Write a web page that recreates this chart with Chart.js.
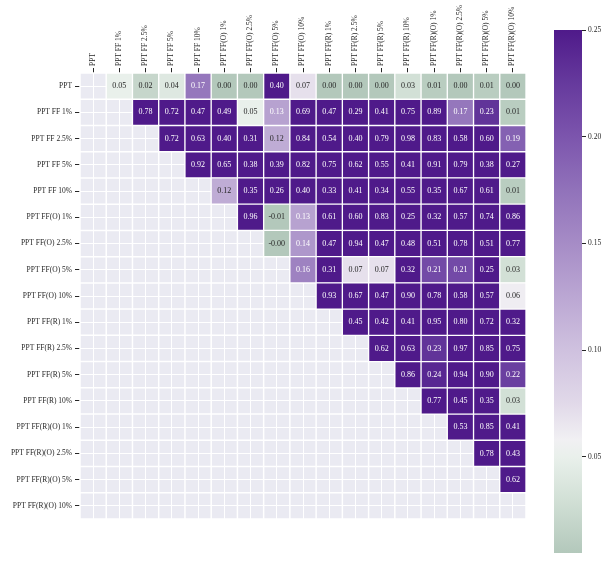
<!DOCTYPE html>
<html>
<head>
<meta charset="utf-8">
<script src="https://cdn.jsdelivr.net/npm/chart.js@4.4.1/dist/chart.umd.min.js"></script>
<style>
  body { margin: 0; background: #ffffff; }
  #wrap { position: relative; width: 616px; height: 563px; }
  #mapa { position: absolute; left: 0; top: 0; }
  #barra { position: absolute; left: 540px; top: 0; }
</style>
</head>
<body>
<div id="wrap">
  <canvas id="mapa" width="616" height="563"></canvas>
  <canvas id="barra" width="76" height="563"></canvas>
</div>
<script>
// Etiquetas de filas y columnas
const etiquetas = [
  'PPT', 'PPT FF 1%', 'PPT FF 2.5%', 'PPT FF 5%', 'PPT FF 10%',
  'PPT FF(O) 1%', 'PPT FF(O) 2.5%', 'PPT FF(O) 5%', 'PPT FF(O) 10%',
  'PPT FF(R) 1%', 'PPT FF(R) 2.5%', 'PPT FF(R) 5%', 'PPT FF(R) 10%',
  'PPT FF(R)(O) 1%', 'PPT FF(R)(O) 2.5%', 'PPT FF(R)(O) 5%', 'PPT FF(R)(O) 10%'
];

// Triangulo superior: cada fila empieza en la columna siguiente a la diagonal
const filaPPT      = [0.05, 0.02, 0.04, 0.17, 0.00, 0.00, 0.40, 0.07, 0.00, 0.00, 0.00, 0.03, 0.01, 0.00, 0.01, 0.00];
const filaFF1      = [0.78, 0.72, 0.47, 0.49, 0.05, 0.13, 0.69, 0.47, 0.29, 0.41, 0.75, 0.89, 0.17, 0.23, 0.01];
const filaFF25     = [0.72, 0.63, 0.40, 0.31, 0.12, 0.84, 0.54, 0.40, 0.79, 0.98, 0.83, 0.58, 0.60, 0.19];
const filaFF5      = [0.92, 0.65, 0.38, 0.39, 0.82, 0.75, 0.62, 0.55, 0.41, 0.91, 0.79, 0.38, 0.27];
const filaFF10     = [0.12, 0.35, 0.26, 0.40, 0.33, 0.41, 0.34, 0.55, 0.35, 0.67, 0.61, 0.01];
const filaFFO1     = [0.96, -0.01, 0.13, 0.61, 0.60, 0.83, 0.25, 0.32, 0.57, 0.74, 0.86];
const filaFFO25    = [-0.004, 0.14, 0.47, 0.94, 0.47, 0.48, 0.51, 0.78, 0.51, 0.77];
const filaFFO5     = [0.16, 0.31, 0.07, 0.07, 0.32, 0.21, 0.21, 0.25, 0.03];
const filaFFO10    = [0.93, 0.67, 0.47, 0.90, 0.78, 0.58, 0.57, 0.06];
const filaFFR1     = [0.45, 0.42, 0.41, 0.95, 0.80, 0.72, 0.32];
const filaFFR25    = [0.62, 0.63, 0.23, 0.97, 0.85, 0.75];
const filaFFR5     = [0.86, 0.24, 0.94, 0.90, 0.22];
const filaFFR10    = [0.77, 0.45, 0.35, 0.03];
const filaFFRO1    = [0.53, 0.85, 0.41];
const filaFFRO25   = [0.78, 0.43];
const filaFFRO5    = [0.62];
const filaFFRO10   = [];

const filas = [filaPPT, filaFF1, filaFF25, filaFF5, filaFF10, filaFFO1, filaFFO25, filaFFO5,
  filaFFO10, filaFFR1, filaFFR25, filaFFR5, filaFFR10, filaFFRO1, filaFFRO25, filaFFRO5, filaFFRO10];

// Escala de color
const escalaMin = 0.005;
const escalaMax = 0.25;
const ticksBarra = [0.05, 0.10, 0.15, 0.20, 0.25];

const paradas = [
  [0.005, '#b3c8bb'], [0.03, '#d2e0d6'], [0.05, '#e9f0eb'], [0.058, '#f1f0f3'],
  [0.075, '#e1d9e9'], [0.10, '#cfc1df'], [0.125, '#bba7d3'], [0.15, '#a68cc6'],
  [0.175, '#9172ba'], [0.20, '#7c55ad'], [0.225, '#663a9d'], [0.25, '#4f1a8a']
];

const fuente = { family: "'Liberation Serif', 'DejaVu Serif', serif", size: 7.5 };
const gris = '#262626';

function hexRgb(h) {
  return [parseInt(h.slice(1, 3), 16), parseInt(h.slice(3, 5), 16), parseInt(h.slice(5, 7), 16)];
}

function colorRgb(v) {
  const x = Math.min(Math.max(v, escalaMin), escalaMax);
  for (let i = 1; i < paradas.length; i++) {
    if (x <= paradas[i][0]) {
      const [v0, c0] = paradas[i - 1];
      const [v1, c1] = paradas[i];
      const t = (x - v0) / (v1 - v0);
      const a = hexRgb(c0), b = hexRgb(c1);
      return a.map((c, k) => Math.round(c + (b[k] - c) * t));
    }
  }
  return hexRgb(paradas[paradas.length - 1][1]);
}

function colorDe(v) {
  const [r, g, b] = colorRgb(v);
  return `rgb(${r},${g},${b})`;
}

// Texto blanco sobre celdas oscuras (regla de luminancia de seaborn)
function textoDe(v) {
  const lin = colorRgb(v).map(c => {
    c = c / 255;
    return c <= 0.03928 ? c / 12.92 : Math.pow((c + 0.055) / 1.055, 2.4);
  });
  const lum = 0.2126 * lin[0] + 0.7152 * lin[1] + 0.0722 * lin[2];
  return lum <= 0.408 ? '#ffffff' : gris;
}

const celdas = [];
filas.forEach((vals, f) => {
  vals.forEach((v, k) => celdas.push({ fila: f, col: f + 1 + k, v }));
});
const indices = etiquetas.map((_, i) => i);

// Fondo gris, lineas de borde de celda y valores
const fondo = {
  id: 'fondo',
  beforeDraw(chart) {
    const { ctx, chartArea: a } = chart;
    ctx.save();
    ctx.fillStyle = '#eaeaf2';
    ctx.fillRect(a.left, a.top, a.right - a.left, a.bottom - a.top);
    ctx.restore();
  },
  beforeDatasetsDraw(chart) {
    const { ctx, chartArea: a, scales } = chart;
    ctx.save();
    ctx.strokeStyle = '#ffffff';
    ctx.lineWidth = 1.5;
    for (let k = 0; k <= etiquetas.length; k++) {
      const px = scales.x.getPixelForValue(k - 0.5);
      const py = scales.y.getPixelForValue(k - 0.5);
      ctx.beginPath(); ctx.moveTo(px, a.top); ctx.lineTo(px, a.bottom); ctx.stroke();
      ctx.beginPath(); ctx.moveTo(a.left, py); ctx.lineTo(a.right, py); ctx.stroke();
    }
    ctx.restore();
  },
  afterDatasetsDraw(chart) {
    const { ctx } = chart;
    const meta = chart.getDatasetMeta(0);
    ctx.save();
    ctx.font = `8px ${fuente.family}`;
    ctx.textAlign = 'center';
    ctx.textBaseline = 'middle';
    meta.data.forEach((bar, i) => {
      const c = celdas[i];
      const p = bar.getCenterPoint();
      ctx.fillStyle = textoDe(c.v);
      ctx.fillText(c.v.toFixed(2), p.x, p.y);
    });
    ctx.restore();
  }
};

new Chart(document.getElementById('mapa'), {
  type: 'bar',
  data: {
    datasets: [{
      data: celdas.map(c => ({ x: c.col, y: [c.fila - 0.5, c.fila + 0.5] })),
      backgroundColor: celdas.map(c => colorDe(c.v)),
      borderColor: '#ffffff',
      borderWidth: 1,
      borderSkipped: false,
      barPercentage: 1,
      categoryPercentage: 1
    }]
  },
  options: {
    responsive: false,
    animation: false,
    layout: { padding: { left: 0, top: 0, right: 90, bottom: 44 } },
    plugins: { legend: { display: false }, tooltip: { enabled: false } },
    scales: {
      x: {
        type: 'linear', position: 'top', min: -0.5, max: 16.5,
        offset: false, beginAtZero: false,
        afterBuildTicks: s => { s.ticks = indices.map(v => ({ value: v })); },
        afterFit: s => { s.height = 73; },
        ticks: {
          autoSkip: false, minRotation: 90, maxRotation: 90, padding: 2, labelOffset: 8.5,
          font: fuente, color: gris, callback: v => etiquetas[v]
        },
        grid: { color: '#ffffff', lineWidth: 1, offset: false, tickColor: gris, tickLength: 5 },
        border: { display: false }
      },
      y: {
        type: 'linear', reverse: true, min: -0.5, max: 16.5,
        offset: false, beginAtZero: false,
        afterBuildTicks: s => { s.ticks = indices.map(v => ({ value: v })); },
        afterFit: s => { s.width = 80; },
        ticks: { autoSkip: false, padding: 3, font: fuente, color: gris, callback: v => etiquetas[v] },
        grid: { color: '#ffffff', lineWidth: 1, offset: false, tickColor: gris, tickLength: 5 },
        border: { display: false }
      }
    }
  },
  plugins: [fondo]
});

// Barra de color
function gradiente(chart) {
  const { ctx, chartArea, scales } = chart;
  if (!chartArea) return '#cccccc';
  const y0 = scales.y.getPixelForValue(escalaMin);
  const y1 = scales.y.getPixelForValue(escalaMax);
  const g = ctx.createLinearGradient(0, y0, 0, y1);
  paradas.forEach(([v, c]) => g.addColorStop((v - escalaMin) / (escalaMax - escalaMin), c));
  return g;
}

new Chart(document.getElementById('barra'), {
  type: 'bar',
  data: {
    labels: [''],
    datasets: [{
      data: [[escalaMin, escalaMax]],
      backgroundColor: ctx => gradiente(ctx.chart),
      borderWidth: 0,
      barPercentage: 1,
      categoryPercentage: 1
    }]
  },
  options: {
    responsive: false,
    animation: false,
    layout: { padding: { left: 14, top: 30, right: 0, bottom: 10 } },
    plugins: { legend: { display: false }, tooltip: { enabled: false } },
    scales: {
      x: { display: false },
      y: {
        position: 'right', min: escalaMin, max: escalaMax, beginAtZero: false,
        afterBuildTicks: s => { s.ticks = ticksBarra.map(v => ({ value: v })); },
        afterFit: s => { s.width = 34; },
        ticks: { padding: 2, font: fuente, color: gris, callback: v => v.toFixed(2) },
        grid: { drawOnChartArea: false, tickColor: gris, tickLength: 4 },
        border: { display: false }
      }
    }
  }
});
</script>
</body>
</html>
